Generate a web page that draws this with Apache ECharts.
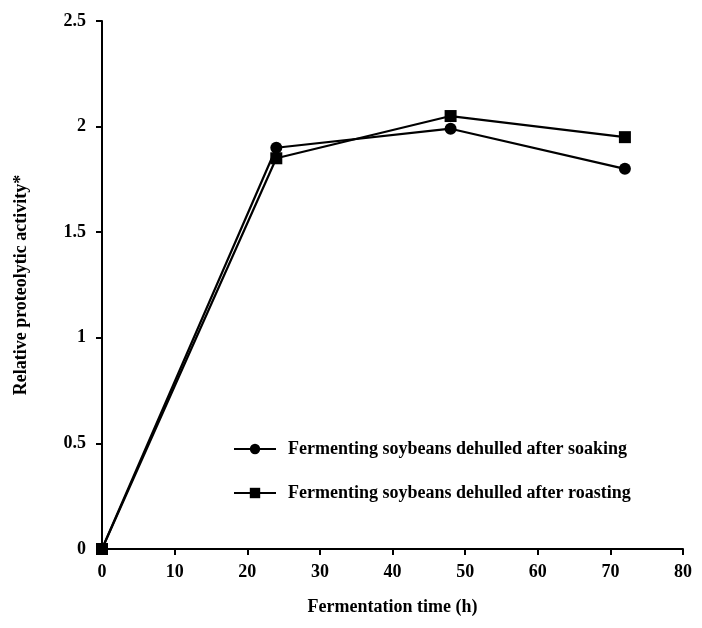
<!DOCTYPE html>
<html><head><meta charset="utf-8">
<script src="https://cdn.jsdelivr.net/npm/echarts@6/dist/echarts.min.js"></script>
<style>html,body{margin:0;padding:0;background:#fff}#c{width:702px;height:628px}</style>
</head><body><div id="c"></div>
<script>
const hours = [0, 24, 48, 72];
const soaking = [0, 1.90, 1.99, 1.80];
const roasting = [0, 1.85, 2.05, 1.95];
const seriesNames = ['Fermenting soybeans dehulled after soaking', 'Fermenting soybeans dehulled after roasting'];
const xName = 'Fermentation time (h)';
const yName = 'Relative proteolytic activity*';

const font = 'Liberation Serif';
const chart = echarts.init(document.getElementById('c'), null, {renderer: 'canvas'});
const axisCommon = {
  axisLine: {show: true, lineStyle: {color: '#000', width: 2}},
  axisTick: {show: true, inside: false, length: 6, lineStyle: {color: '#000', width: 2}},
  splitLine: {show: false},
  axisLabel: {color: '#000', fontFamily: font, fontSize: 18, fontWeight: 'bold'},
  nameTextStyle: {color: '#000', fontFamily: font, fontSize: 18, fontWeight: 'bold'}
};
chart.setOption({
  animation: false,
  grid: {left: 102, right: 19, top: 21, bottom: 79, containLabel: false, outerBoundsMode: 'none'},
  xAxis: Object.assign({}, axisCommon, {
    type: 'value', min: 0, max: 80, interval: 10,
    name: xName, nameLocation: 'middle', nameGap: 49,
    axisLabel: Object.assign({}, axisCommon.axisLabel, {margin: 14})
  }),
  yAxis: Object.assign({}, axisCommon, {
    type: 'value', min: 0, max: 2.5, interval: 0.5,
    name: yName, nameLocation: 'middle', nameGap: 72, nameRotate: 90,
    axisLabel: Object.assign({}, axisCommon.axisLabel, {margin: 16})
  }),
  legend: {
    orient: 'vertical', left: 233, top: 440, padding: 0, itemWidth: 42, itemHeight: 13, itemGap: 26,
    textStyle: {color: '#000', fontFamily: font, fontSize: 18, fontWeight: 'bold', padding: [0, 0, 0, 7]},
    data: [seriesNames[0], seriesNames[1]]
  },
  series: [
    {name: seriesNames[0], type: 'line', data: hours.map((h, i) => [h, soaking[i]]),
     symbol: 'circle', symbolSize: 12, lineStyle: {color: '#000', width: 2.2}, itemStyle: {color: '#000'}},
    {name: seriesNames[1], type: 'line', data: hours.map((h, i) => [h, roasting[i]]),
     symbol: 'rect', symbolSize: 12, lineStyle: {color: '#000', width: 2.2}, itemStyle: {color: '#000'}}
  ]
});
</script></body></html>
